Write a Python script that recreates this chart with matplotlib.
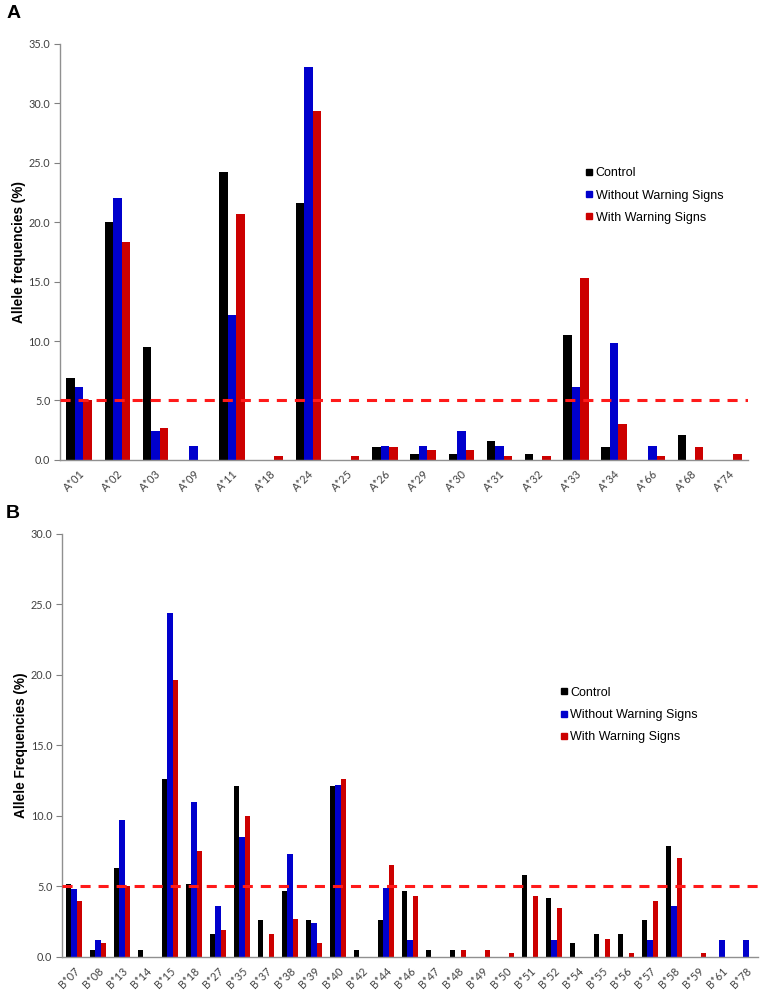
import matplotlib
matplotlib.use("Agg")
import matplotlib.pyplot as plt
import numpy as np
from matplotlib.lines import Line2D

# ---------------- Data ----------------
a_alleles = ["A*01", "A*02", "A*03", "A*09", "A*11", "A*18", "A*24", "A*25", "A*26",
             "A*29", "A*30", "A*31", "A*32", "A*33", "A*34", "A*66", "A*68", "A*74"]
a_control = [6.9, 20.0, 9.5, 0.0, 24.2, 0.0, 21.6, 0.0, 1.1,
             0.5, 0.5, 1.6, 0.5, 10.5, 1.1, 0.0, 2.1, 0.0]
a_without = [6.1, 22.0, 2.4, 1.2, 12.2, 0.0, 33.0, 0.0, 1.2,
             1.2, 2.4, 1.2, 0.0, 6.1, 9.8, 1.2, 0.0, 0.0]
a_with = [5.0, 18.3, 2.7, 0.0, 20.7, 0.3, 29.3, 0.3, 1.1,
          0.8, 0.8, 0.3, 0.3, 15.3, 3.0, 0.3, 1.1, 0.5]

b_alleles = ["B*07", "B*08", "B*13", "B*14", "B*15", "B*18", "B*27", "B*35", "B*37",
             "B*38", "B*39", "B*40", "B*42", "B*44", "B*46", "B*47", "B*48", "B*49",
             "B*50", "B*51", "B*52", "B*54", "B*55", "B*56", "B*57", "B*58", "B*59",
             "B*61", "B*78"]
b_control = [5.2, 0.5, 6.3, 0.5, 12.6, 5.2, 1.6, 12.1, 2.6,
             4.7, 2.6, 12.1, 0.5, 2.6, 4.7, 0.5, 0.5, 0.0,
             0.0, 5.8, 4.2, 1.0, 1.6, 1.6, 2.6, 7.9, 0.0,
             0.0, 0.0]
b_without = [4.8, 1.2, 9.7, 0.0, 24.4, 11.0, 3.6, 8.5, 0.0,
             7.3, 2.4, 12.2, 0.0, 4.9, 1.2, 0.0, 0.0, 0.0,
             0.0, 0.0, 1.2, 0.0, 0.0, 0.0, 1.2, 3.6, 0.0,
             1.2, 1.2]
b_with = [4.0, 1.0, 5.0, 0.0, 19.6, 7.5, 1.9, 10.0, 1.6,
          2.7, 1.0, 12.6, 0.0, 6.5, 4.3, 0.0, 0.5, 0.5,
          0.3, 4.3, 3.5, 0.0, 1.3, 0.3, 4.0, 7.0, 0.3,
          0.0, 0.0]

series_names = ["Control", "Without Warning Signs", "With Warning Signs"]
colors = ["#000000", "#0000CC", "#CC0000"]
threshold = 5.0

# ---------------- Figure ----------------
fig = plt.figure(figsize=(7.64, 9.93), dpi=100)
plt.rcParams['font.family'] = ['Liberation Sans', 'DejaVu Sans']

axA = fig.add_axes([0.0785, 0.5368, 0.9005, 0.4192])
axB = fig.add_axes([0.0812, 0.0363, 0.9108, 0.4262])

tick_font = ['Lato', 'DejaVu Sans']


def draw_panel(ax, labels, data, ymax, ylabel, width, legend_pos):
    x = np.arange(len(labels))
    offsets = [-width, 0, width]
    for vals, off, col in zip(data, offsets, colors):
        ax.bar(x + off, vals, width=width, color=col, edgecolor='none', zorder=2)
    ax.axhline(threshold, color='#FF1A1A', linestyle=(0, (3.3, 2.6)), linewidth=2.2, zorder=3)
    ax.set_xlim(-0.5, len(labels) - 0.5)
    ax.set_ylim(0, ymax)
    ticks = np.arange(0, ymax + 0.1, 5)
    ax.set_yticks(ticks)
    ax.set_yticklabels([f"{v:.1f}" for v in ticks],
                       fontsize=7.8, color='#404040', family=tick_font)
    ax.set_xticks(x)
    ax.set_xticklabels(labels, rotation=45, ha='right', rotation_mode='anchor',
                       fontsize=7.8, color='#404040', family=tick_font)
    ax.tick_params(axis='x', length=0, pad=6)
    ax.tick_params(axis='y', length=4, width=0.8, color='#808080', pad=3, direction='out')
    for s in ['top', 'right']:
        ax.spines[s].set_visible(False)
    for s in ['left', 'bottom']:
        ax.spines[s].set_color('#909090')
        ax.spines[s].set_linewidth(1.0)
    ax.set_ylabel(ylabel, fontsize=9.8, fontweight='bold', labelpad=2)
    handles = [Line2D([0], [0], marker='s', linestyle='none', markersize=4.5,
                      markerfacecolor=c, markeredgecolor=c) for c in colors]
    ax.legend(handles, series_names, loc='upper left', bbox_to_anchor=legend_pos,
              frameon=False, fontsize=9, handletextpad=0.1, labelspacing=0.82,
              handlelength=0.8, borderaxespad=0)


draw_panel(axA, a_alleles, [a_control, a_without, a_with], 35, "Allele frequencies (%)",
           0.223, (0.755, 0.715))
draw_panel(axB, b_alleles, [b_control, b_without, b_with], 30, "Allele Frequencies (%)",
           0.23, (0.707, 0.65))

fig.text(0.008, 0.995, "A", fontsize=14, fontweight='bold', va='top', ha='left')
fig.text(0.008, 0.4915, "B", fontsize=14, fontweight='bold', va='top', ha='left')

fig.savefig("out.png", dpi=100)
